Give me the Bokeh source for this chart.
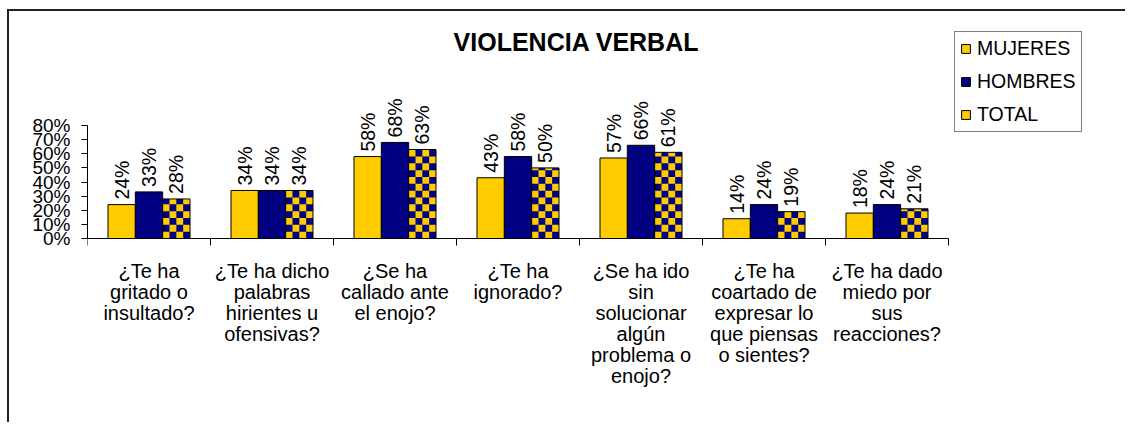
import math
from bokeh.plotting import figure
from bokeh.models import (ColumnDataSource, FixedTicker, NumeralTickFormatter,
                          Label, Range1d, Legend, LegendItem)
from bokeh.core.properties import value
from bokeh.embed import file_html
from bokeh.resources import INLINE

# ---------------- data ----------------
title_text = "VIOLENCIA VERBAL"
categories = [
    "¿Te ha gritado o insultado?",
    "¿Te ha dicho palabras hirientes u ofensivas?",
    "¿Se ha callado ante el enojo?",
    "¿Te ha ignorado?",
    "¿Se ha ido sin solucionar algún problema o enojo?",
    "¿Te ha coartado de expresar lo que piensas o sientes?",
    "¿Te ha dado miedo por sus reacciones?",
]
category_labels = [
    "¿Te ha\ngritado o\ninsultado?",
    "¿Te ha dicho\npalabras\nhirientes u\nofensivas?",
    "¿Se ha\ncallado ante\nel enojo?",
    "¿Te ha\nignorado?",
    "¿Se ha ido\nsin\nsolucionar\nalgún\nproblema o\nenojo?",
    "¿Te ha\ncoartado de\nexpresar lo\nque piensas\no sientes?",
    "¿Te ha dado\nmiedo por\nsus\nreacciones?",
]
series_names = ["MUJERES", "HOMBRES", "TOTAL"]
mujeres = [24, 34, 58, 43, 57, 14, 18]
hombres = [33, 34, 68, 58, 66, 24, 24]
total = [28, 34, 63, 50, 61, 19, 21]
y_ticks = [0, 10, 20, 30, 40, 50, 60, 70, 80]

# ---------------- layout / style ----------------
FONT = "Liberation Sans"
YELLOW = "#FFCC00"
NAVY = "#000080"
ORIGIN_X, ORIGIN_Y = 9, 11       # canvas origin on the page
AXIS_X = 87                      # page x of the value axis
Y0_PX, Y80_PX = 238, 125         # page y of 0% and 80%
GROUP_PX = 123                   # width of one category slot
FRAME_RIGHT, FRAME_BOTTOM = 1125, 422

n = len(categories)
frame_w = FRAME_RIGHT - AXIS_X
frame_h = FRAME_BOTTOM - ORIGIN_Y
py = (Y0_PX - Y80_PX) / (y_ticks[-1] / 100)
y_end = (Y0_PX - ORIGIN_Y) / py
y_start = -(FRAME_BOTTOM - Y0_PX) / py
x_start = -0.5
x_end = x_start + frame_w / GROUP_PX

p = figure(frame_width=frame_w, frame_height=frame_h,
           x_range=Range1d(x_start, x_end), y_range=Range1d(y_start, y_end),
           min_border_left=AXIS_X - ORIGIN_X, min_border_right=0,
           min_border_top=0, min_border_bottom=0,
           output_backend="svg", toolbar_location=None)
p.outline_line_color = None
p.grid.visible = False
p.background_fill_color = "white"
p.border_fill_color = "white"
p.margin = (ORIGIN_Y - 2, 0, 0, ORIGIN_X - 2)
p.styles = {"border-top": "2px solid #222", "border-left": "2px solid #222"}

# x axis at y = 0 with ticks on category boundaries
bounds_x = [i - 0.5 for i in range(n + 1)]
p.xaxis.fixed_location = 0
p.xaxis.bounds = (-0.5, n - 0.5)
p.xaxis.ticker = FixedTicker(ticks=bounds_x, minor_ticks=[])
p.xaxis.major_label_overrides = {b: "" for b in bounds_x}
p.xaxis.major_tick_out = 7
p.xaxis.major_tick_in = 0
p.xaxis.minor_tick_out = 0
p.xaxis.minor_tick_in = 0
p.xaxis.major_tick_line_color = "black"
p.xaxis.axis_line_color = "black"
p.xaxis.major_label_text_font_size = "8px"

# y axis
p.yaxis.ticker = FixedTicker(ticks=[t / 100 for t in y_ticks], minor_ticks=[])
p.yaxis.formatter = NumeralTickFormatter(format="0%")
p.yaxis.bounds = (0, y_ticks[-1] / 100)
p.yaxis.major_tick_out = 6
p.yaxis.major_tick_in = 0
p.yaxis.minor_tick_out = 0
p.yaxis.minor_tick_in = 0
p.yaxis.axis_line_color = "black"
p.yaxis.major_tick_line_color = "black"
p.yaxis.major_label_text_font = FONT
p.yaxis.major_label_text_font_size = "19px"
p.yaxis.major_label_text_color = "black"
p.yaxis.major_label_standoff = 11

# category labels under the axis
cat_src = ColumnDataSource(dict(x=list(range(n)), y=[0] * n, text=category_labels))
p.text(x="x", y="y", text="text", source=cat_src, text_align="center",
       text_baseline="top", y_offset=21, text_line_height=0.957,
       text_font=value(FONT), text_font_size="20px", text_color="black")

# bars
bw = 1 / 4.5
renderers = {}
for k, (name, vals) in enumerate(zip(series_names, [mujeres, hombres, total])):
    src = ColumnDataSource(dict(
        x=[i + (k - 1) * bw for i in range(n)],
        top=[v / 100 for v in vals],
        label=[f"{v}%" for v in vals],
    ))
    kw = dict(x="x", top="top", width=bw, source=src)
    if name == "MUJERES":
        renderers[name] = [p.vbar(fill_color=YELLOW, line_color="black", line_width=1, **kw)]
    elif name == "HOMBRES":
        renderers[name] = [p.vbar(fill_color=NAVY, line_color="black", line_width=1, **kw)]
    else:
        base = p.vbar(fill_color=NAVY, line_color=None, **kw)
        # checkerboard cells (yellow) inside each TOTAL bar
        cx = bw / 4
        cy = (bw * GROUP_PX / 4) / py
        L, R, B, T = [], [], [], []
        for xc, v in zip(src.data["x"], src.data["top"]):
            left = xc - bw / 2
            r = 0
            while r * cy < v - 1e-9:
                for c in range(4):
                    if (r + c) % 2 == 0:
                        L.append(left + c * cx)
                        R.append(left + (c + 1) * cx)
                        B.append(r * cy)
                        T.append(min((r + 1) * cy, v))
                r += 1
        cells = p.quad(left=L, right=R, bottom=B, top=T, fill_color=YELLOW,
                       line_color=None)
        outline = p.vbar(fill_color=None, line_color="black", line_width=1, **kw)
        renderers[name] = [base, cells, outline]
    p.text(x="x", y="top", text="label", source=src, angle=math.pi / 2,
           text_align="left", text_baseline="middle", y_offset=-5,
           text_font=value(FONT), text_font_size="19.5px", text_color="black")

# title
p.add_layout(Label(x=576 - AXIS_X, y=FRAME_BOTTOM - 41, x_units="screen", y_units="screen",
                   text=title_text, text_font=FONT, text_font_style="bold",
                   text_font_size="25px", text_align="center",
                   text_baseline="middle", text_color="black"))

# legend
lg = Legend(items=[LegendItem(label=nm, renderers=renderers[nm]) for nm in series_names])
lg.location = (954 - AXIS_X, FRAME_BOTTOM - 132)
lg.border_line_color = "black"
lg.border_line_width = 1
lg.background_fill_color = "white"
lg.background_fill_alpha = 1
lg.label_text_font = FONT
lg.label_text_font_size = "19.5px"
lg.label_text_color = "black"
lg.glyph_width = 11
lg.glyph_height = 11
lg.label_standoff = 6
lg.padding = 5
lg.spacing = 10
lg.label_height = 23
lg.margin = 0
p.add_layout(lg)

open("out.html", "w").write(file_html(p, INLINE))
